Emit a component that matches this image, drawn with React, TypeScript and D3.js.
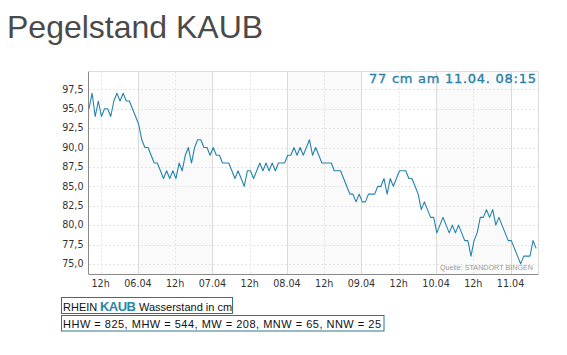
import { useEffect, useRef } from 'react'
import * as d3 from 'd3'

// Pegel Kaub, stündliche Werte (cm), jeweils zur Viertelstunde :15
const pegel0504 = [95, 97, 94, 96, 94, 95, 95, 94, 96, 97, 96, 97, 96, 96, 95, 94]
const pegel0604 = [93, 91, 90, 90, 89, 88, 88, 87, 86, 87, 86, 87, 86, 88, 87, 89, 90, 88, 90, 91, 91, 90, 90, 89]
const pegel0704 = [90, 89, 89, 88, 88, 88, 87, 86, 87, 86, 85, 87, 87, 86, 87, 88, 87, 88, 87, 88, 87, 88, 88, 88]
const pegel0804 = [89, 89, 90, 89, 90, 89, 90, 91, 89, 90, 89, 88, 88, 88, 88, 87, 87, 87, 86, 85, 84, 84, 83, 84]
const pegel0904 = [83, 83, 84, 84, 84, 85, 85, 86, 84, 86, 85, 86, 87, 87, 87, 86, 86, 85, 84, 82, 83, 82, 81, 81]
const pegel1004 = [79, 80, 81, 80, 79, 80, 79, 80, 79, 78, 78, 76, 78, 79, 81, 81, 82, 81, 82, 80, 81, 80, 79, 78]
const pegel1104 = [78, 77, 76, 75, 76, 76, 76, 78, 77]

const dayNums = [5, 6, 7, 8, 9, 10, 11]
const firstHours = [8, 0, 0, 0, 0, 0, 0]
const dayValues = [pegel0504, pegel0604, pegel0704, pegel0804, pegel0904, pegel1004, pegel1104]

const yTicks = [75, 77.5, 80, 82.5, 85, 87.5, 90, 92.5, 95, 97.5]
const shadedDays = [6, 8, 10]

const currentText = '77 cm am 11.04. 08:15'
const kennwerte = 'HHW = 825, MHW = 544, MW = 208, MNW = 65, NNW = 25'

const LINE = '#2584ad'
const TEAL = '#2e7488'

export default function App() {
  const svgRef = useRef<SVGSVGElement>(null)

  useEffect(() => {
    if (!svgRef.current) return
    const svg = d3.select(svgRef.current)
    svg.selectAll('*').remove()

    const readings: { t: Date; v: number }[] = []
    dayValues.forEach((vals, di) => {
      vals.forEach((v, k) => {
        readings.push({ t: new Date(2025, 3, dayNums[di], firstHours[di] + k, 15), v })
      })
    })

    const L = 89, R = 538.5, T = 71.5, B = 274
    const x = d3.scaleTime()
      .domain([new Date(2025, 3, 5, 8, 15), new Date(2025, 3, 11, 9, 0)])
      .range([L, R])
    const y = d3.scaleLinear().domain([73.7, 99.8]).range([B, T])

    // Titel
    svg.append('text')
      .attr('x', 7).attr('y', 38)
      .attr('font-family', '"Liberation Sans", Arial, sans-serif')
      .attr('font-size', 32).attr('fill', '#4a4a4a')
      .text('Pegelstand KAUB')

    // Hintergrund, abwechselnde Tage
    svg.append('rect').attr('x', L).attr('y', T).attr('width', R - L).attr('height', B - T).attr('fill', '#fff')
    shadedDays.forEach(d => {
      const x0 = Math.max(L, x(new Date(2025, 3, d, 0, 0)))
      const x1 = Math.min(R, x(new Date(2025, 3, d + 1, 0, 0)))
      svg.append('rect').attr('x', x0).attr('y', T).attr('width', x1 - x0).attr('height', B - T).attr('fill', '#fafafa')
    })

    // Gitter
    yTicks.forEach(t => {
      svg.append('line')
        .attr('x1', L).attr('x2', R).attr('y1', Math.round(y(t)) + 0.5).attr('y2', Math.round(y(t)) + 0.5)
        .attr('stroke', '#e4e4e4').attr('stroke-dasharray', '2,2')
    })
    const xTicks = x.ticks(d3.timeHour.every(12)!)
    xTicks.forEach(t => {
      const midnight = t.getHours() === 0
      svg.append('line')
        .attr('x1', Math.round(x(t)) + 0.5).attr('x2', Math.round(x(t)) + 0.5).attr('y1', T).attr('y2', B)
        .attr('stroke', midnight ? '#dadada' : '#e4e4e4')
        .attr('stroke-dasharray', midnight ? null : '2,2')
    })

    // Rahmen
    svg.append('line').attr('x1', L).attr('x2', R).attr('y1', T).attr('y2', T).attr('stroke', '#dcdcdc')
    svg.append('line').attr('x1', R).attr('x2', R).attr('y1', T).attr('y2', B).attr('stroke', '#dcdcdc')
    svg.append('line').attr('x1', L - 0.5).attr('x2', L - 0.5).attr('y1', T).attr('y2', B).attr('stroke', '#8a8a8a')
    svg.append('line').attr('x1', L - 0.5).attr('x2', R).attr('y1', B + 0.5).attr('y2', B + 0.5).attr('stroke', '#8a8a8a')

    // Achsenbeschriftung
    const fmt = d3.format('.1f')
    yTicks.forEach(t => {
      svg.append('text')
        .attr('x', 83.5).attr('y', y(t)).attr('dy', '0.35em')
        .attr('text-anchor', 'end')
        .attr('font-family', '"DejaVu Sans", sans-serif').attr('font-size', 9.6).attr('fill', '#333')
        .text(fmt(t).replace('.', ','))
    })
    xTicks.forEach(t => {
      svg.append('text')
        .attr('x', x(t)).attr('y', 287)
        .attr('text-anchor', 'middle')
        .attr('font-family', '"DejaVu Sans", sans-serif').attr('font-size', 9.6).attr('fill', '#333')
        .text(t.getHours() === 0 ? d3.timeFormat('%d.%m')(t) : '12h')
    })

    // Ganglinie
    const line = d3.line<{ t: Date; v: number }>().x(d => x(d.t)).y(d => y(d.v))
    svg.append('path')
      .datum(readings)
      .attr('d', line)
      .attr('fill', 'none').attr('stroke', LINE).attr('stroke-width', 1.1)
      .attr('stroke-linejoin', 'round')

    // aktueller Wert
    svg.append('text')
      .attr('x', 536).attr('y', 83).attr('text-anchor', 'end')
      .attr('font-family', '"DejaVu Sans", sans-serif').attr('font-size', 13)
      .attr('fill', '#2a7fa6').attr('stroke', '#2a7fa6').attr('stroke-width', 0.35)
      .attr('textLength', 167).attr('lengthAdjust', 'spacing')
      .text(currentText)

    svg.append('text')
      .attr('x', 533).attr('y', 270).attr('text-anchor', 'end')
      .attr('font-family', '"Liberation Sans", Arial, sans-serif').attr('font-size', 7.2).attr('fill', '#9a9a9a')
      .text('Quelle: STANDORT BINGEN')

    // Infokästen
    svg.append('rect').attr('x', 61.5).attr('y', 297.5).attr('width', 171).attr('height', 16)
      .attr('fill', '#fff').attr('stroke', TEAL)
    svg.append('text').attr('x', 63).attr('y', 310.5)
      .attr('font-family', '"Liberation Sans", Arial, sans-serif').attr('font-size', 11).attr('fill', '#111')
      .text('RHEIN')
    svg.append('text').attr('x', 100).attr('y', 311)
      .attr('font-family', '"Liberation Sans", Arial, sans-serif').attr('font-size', 13).attr('font-weight', 'bold')
      .attr('fill', '#2a86a8').attr('textLength', 36).attr('lengthAdjust', 'spacing')
      .text('KAUB')
    svg.append('text').attr('x', 139).attr('y', 310.5)
      .attr('font-family', '"Liberation Sans", Arial, sans-serif').attr('font-size', 11).attr('fill', '#111')
      .text('Wasserstand in cm')

    svg.append('rect').attr('x', 61.5).attr('y', 315.5).attr('width', 322.5).attr('height', 15.5)
      .attr('fill', '#fff').attr('stroke', TEAL)
    svg.append('text').attr('x', 63).attr('y', 327.5)
      .attr('font-family', '"Liberation Sans", Arial, sans-serif').attr('font-size', 11).attr('fill', '#111')
      .attr('textLength', 318).attr('lengthAdjust', 'spacing')
      .text(kennwerte)
  }, [])

  return (
    <svg ref={svgRef} width={567} height={355}
      style={{ position: 'absolute', left: 0, top: 0, background: '#fff', display: 'block' }} />
  )
}
